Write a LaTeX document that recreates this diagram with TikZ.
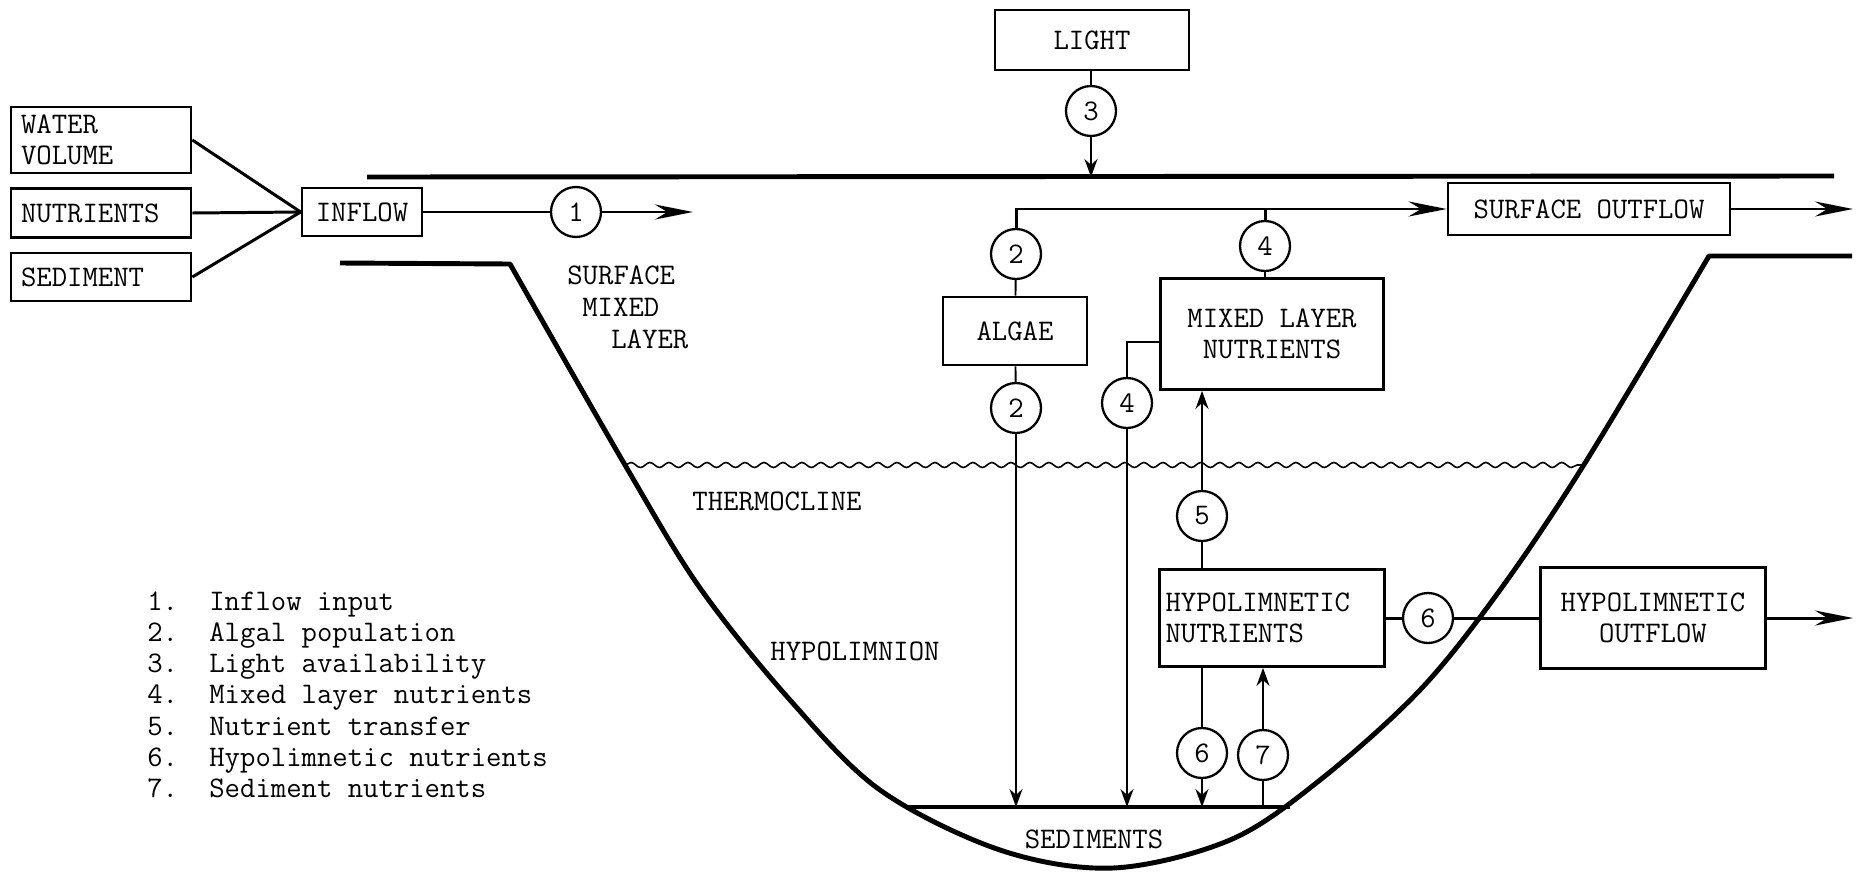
\documentclass[tikz,border=0pt]{standalone}
\usepackage{tikz}
\usetikzlibrary{arrows.meta, positioning, calc, decorations.pathmorphing}
\newcommand{\lakefont}{\ttfamily\fontsize{17}{18}\selectfont}
\tikzset{
	blk/.style   ={rectangle, draw=black, line width=1.6pt, align=center, inner sep=2pt, font=\lakefont},
	lblk/.style  ={blk, align=left, inner xsep=0.2cm, text width=3.2cm},
	cnum/.style  ={circle, draw=black, line width=1.3pt, minimum size=1cm, inner sep=0pt, font=\lakefont},
	lbl/.style   ={inner sep=0pt, font=\lakefont},
	link/.style  ={line width=1.1pt},
	flow/.style  ={line width=1.7pt},
	sig/.style   ={-{Stealth[length=0.36cm, width=0.26cm]}, line width=1.1pt},
	bigsig/.style={-{Stealth[length=0.76cm, width=0.3cm]}, line width=1.7pt},
	% lake outline, water surface and thermocline
	shore/.style ={line width=2.8pt, line join=round},
	thermo/.style={line width=0.9pt, decorate, decoration={snake, segment length=0.38cm, amplitude=0.05cm}},
}
\begin{document}
\begin{tikzpicture}[x=0.02cm, y=-0.02cm]
	\useasboundingbox (0,0) rectangle (1861,872);
	% inputs and inflow
	\node[lblk, minimum height=1.32cm] (water) at (101,140) {WATER\\VOLUME};
	\node[lblk, minimum height=0.98cm] (nutr) at (101,213) {NUTRIENTS};
	\node[lblk, minimum height=0.96cm] (sedi) at (101,277) {SEDIMENT};
	\node[blk, minimum width=2.4cm, minimum height=0.96cm] (inflow) at (362,212) {INFLOW};
	\foreach \src in {water, nutr, sedi} \draw[flow] (\src.east) -- (inflow.west);
	\node[cnum] (c1) at (576,212) {1};
	\coordinate (tip1) at (693,212);
	\draw[flow] (inflow) -- (c1); \draw[bigsig] (c1) -- (tip1);
	% light and water surface
	\coordinate (surfL) at (367,177); \coordinate (surfR) at (1834,176);
	\draw[shore] (surfL) -- (surfR);
	\node[blk, minimum width=3.88cm, minimum height=1.2cm] (light) at (1092,40) {LIGHT};
	\node[cnum] (c3) at (1091,111) {3};
	\draw[link] (light.south -| c3) -- (c3); \draw[sig] (c3) -- (c3 |- surfL);
	% surface mixed layer
	\node[blk, minimum width=5.64cm, minimum height=1.04cm] (souter) at (1589,209) {SURFACE OUTFLOW};
	\coordinate (stip) at (1853,209);
	\draw[bigsig] (souter) -- (stip);
	\node[cnum] (c2a) at (1016,254) {2};
	\node[blk, minimum width=2.88cm, minimum height=1.36cm] (algae) at (1015,331) {ALGAE};
	\node[cnum] (c2b) at (1016,408) {2};
	\node[cnum] (c4a) at (1265,246) {4};
	\node[blk, minimum width=4.46cm, minimum height=2.22cm] (mixed) at (1272,334) {MIXED LAYER\\NUTRIENTS};
	\node[cnum] (c4b) at (1127,403) {4};
	\draw[bigsig] (c2a.north) |- (souter.west);
	\draw[flow] (c4a.north) -- (c4a.north |- souter.west);
	\draw[link] (c2a) -- (algae); \draw[link] (algae) -- (c2b);
	\draw[link] (c4a) -- (c4a |- mixed.north);
	\draw[link] ($(mixed.west)+(0,8)$) -| (c4b);
	% sediments
	\coordinate (sedL) at (908,807); \coordinate (sedR) at (1290,807);
	\draw[line width=2.2pt] (sedL) -- (sedR);
	\draw[sig] (c2b) -- (c2b |- sedL);
	\draw[sig] (c4b) -- (c4b |- sedL);
	% hypolimnion
	\node[lblk, text width=4.26cm, inner xsep=0.12cm, minimum height=1.94cm] (hypo) at (1272,618) {HYPOLIMNETIC\\NUTRIENTS};
	\node[cnum] (c5) at (1202,516) {5};
	\draw[link] (c5 |- hypo.north) -- (c5); \draw[sig] (c5) -- (c5 |- mixed.south);
	\node[cnum] (c6a) at (1428,618) {6};
	\node[blk, minimum width=4.5cm, minimum height=2.02cm] (hypout) at (1653,618) {HYPOLIMNETIC\\OUTFLOW};
	\coordinate (htip) at (1853,618);
	\draw[flow] (hypo) -- (c6a); \draw[flow] (c6a) -- (hypout);
	\draw[bigsig] (hypout) -- (htip);
	\node[cnum] (c6b) at (1202,753) {6};
	\node[cnum] (c7) at (1263,755) {7};
	\draw[link] (c6b |- hypo.south) -- (c6b); \draw[sig] (c6b) -- (c6b |- sedL);
	\draw[link] (c7 |- sedL) -- (c7); \draw[sig] (c7) -- (c7 |- hypo.south);
	% basin outline
	\draw[shore] (340,263) -- plot[smooth, tension=0.55] coordinates {(510,264) (625,465) (700,588) (790,700) (880,790) (1000,850) (1113,868) (1230,840) (1320,780) (1420,690) (1500,590) (1585,463) (1709,256)} -- (1852,256);
	\draw[thermo] (625,465) -- (1585,465);
	% layer names
	\node[lbl, anchor=base west] (lsurf) at (567,284) {SURFACE};
	\node[lbl, anchor=base west] (lmix) at (582,316) {MIXED};
	\node[lbl, anchor=base west] (llay) at (611,348) {LAYER};
	\node[lbl, anchor=base] (lthermo) at (777,510) {THERMOCLINE};
	\node[lbl, anchor=base] (lhypo) at (855,660) {HYPOLIMNION};
	\node[lbl, anchor=base] (lsed) at (1094,848) {SEDIMENTS};
	% legend
	\foreach \num/\txt [count=\i from 0] in {1/Inflow input, 2/Algal population, 3/Light availability, 4/Mixed layer nutrients, 5/Nutrient transfer, 6/Hypolimnetic nutrients, 7/Sediment nutrients} {
		\node[lbl, anchor=base west] (num\num) at (147,610+31.3*\i) {\num.};
		\node[lbl, anchor=base west] (leg\num) at (209,610+31.3*\i) {\txt};
	}
\end{tikzpicture}
\end{document}
